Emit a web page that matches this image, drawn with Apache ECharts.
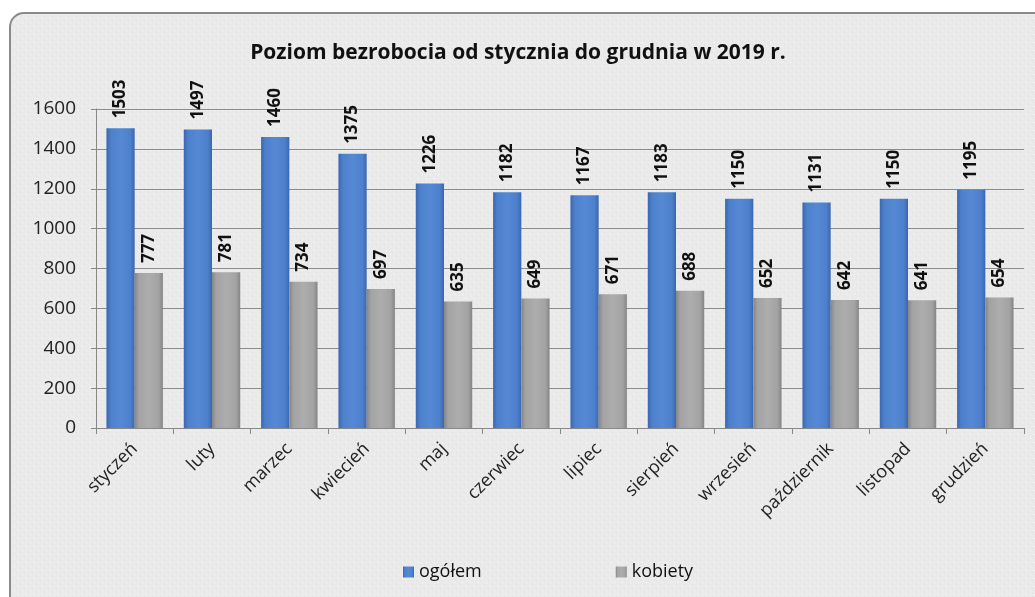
<!DOCTYPE html>
<html><head><meta charset="utf-8">
<script src="https://cdn.jsdelivr.net/npm/echarts@6/dist/echarts.min.js"></script>
<style>html,body{margin:0;padding:0;background:#fff}#c{width:1035px;height:597px}</style>
</head><body><div id="c"></div>
<script>
const titleText = 'Poziom bezrobocia od stycznia do grudnia w 2019 r.';
const months = ['styczeń','luty','marzec','kwiecień','maj','czerwiec','lipiec','sierpień','wrzesień','październik','listopad','grudzień'];
const ogolem = [1503,1497,1460,1375,1226,1182,1167,1183,1150,1131,1150,1195];
const kobiety = [777,781,734,697,635,649,671,688,652,642,641,654];
const seriesNames = ['ogółem','kobiety'];

// dotted background pattern
const pc = document.createElement('canvas');
pc.width = 8; pc.height = 8;
const g = pc.getContext('2d');
g.fillStyle = '#eaeaea'; g.fillRect(0,0,8,8);
g.fillStyle = '#e2e2e2'; g.fillRect(4,0,1,1); g.fillRect(0,4,1,1);
g.fillStyle = '#f8f8f8'; g.fillRect(2,2,1,1); g.fillRect(6,6,1,1);

const FONT = '"Open Sans", sans-serif';
const blue = {type:'linear',x:0,y:0,x2:1,y2:0,colorStops:[
  {offset:0,color:'#3a66ad'},{offset:0.15,color:'#4c80cc'},{offset:0.5,color:'#5589d4'},{offset:0.85,color:'#4c80cc'},{offset:1,color:'#3a66ad'}]};
const grey = {type:'linear',x:0,y:0,x2:1,y2:0,colorStops:[
  {offset:0,color:'#858585'},{offset:0.15,color:'#a3a3a3'},{offset:0.5,color:'#adadad'},{offset:0.85,color:'#a3a3a3'},{offset:1,color:'#858585'}]};

const chart = echarts.init(document.getElementById('c'));
const lbl = {show:true, position:'top', rotate:90, align:'left', verticalAlign:'middle', distance:10,
  fontFamily:FONT, fontWeight:'bold', fontSize:17, color:'#111'};
chart.setOption({
  animation:false,
  graphic:[{type:'rect', z:-10, silent:true,
    shape:{x:10,y:13,width:1040,height:610,r:14},
    style:{fill:{image:pc, repeat:'repeat'}, stroke:'#8a8a8a', lineWidth:2}}],
  title:{text:titleText, left:513, textAlign:'center', top:38,
    textStyle:{fontFamily:FONT, fontWeight:'bold', fontSize:21, color:'#111'}},
  legend:{data:seriesNames, left:398, top:558, itemGap:134, itemWidth:11, itemHeight:11, icon:'rect',
    textStyle:{fontFamily:FONT, fontSize:18, color:'#111'}},
  grid:{left:96, right:11, top:109, bottom:169},
  xAxis:{type:'category', data:months,
    axisLine:{lineStyle:{color:'#888'}},
    axisTick:{show:true, length:6, lineStyle:{color:'#888'}},
    axisLabel:{rotate:45, margin:18, fontFamily:FONT, fontSize:18, color:'#222'}},
  yAxis:{type:'value', min:0, max:1600, interval:200,
    axisLine:{show:true, lineStyle:{color:'#888'}},
    axisTick:{show:true, length:5, lineStyle:{color:'#888'}},
    splitLine:{lineStyle:{color:'#8c8c8c'}},
    axisLabel:{margin:20, fontFamily:FONT, fontSize:19, color:'#222', formatter:v => String(v)}},
  series:[
    {name:seriesNames[0], type:'bar', data:ogolem, barGap:'0%', barCategoryGap:'27%',
     itemStyle:{color:blue}, label:lbl},
    {name:seriesNames[1], type:'bar', data:kobiety, barGap:'0%', barCategoryGap:'27%',
     itemStyle:{color:grey}, label:lbl}
  ]
});
</script></body></html>
